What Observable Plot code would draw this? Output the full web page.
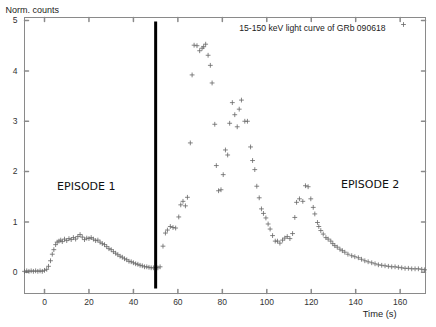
<!DOCTYPE html>
<html>
<head>
<meta charset="utf-8">
<script src="https://cdn.jsdelivr.net/npm/d3@7"></script>
<script src="https://cdn.jsdelivr.net/npm/@observablehq/plot@0.6"></script>
<style>
  html, body { margin: 0; padding: 0; background: #fff; }
  #chart svg { display: block; }
</style>
</head>
<body>
<div id="chart"></div>
<script>
// Time (s) of each bin
const times = [
  -9, -8, -7, -6, -5, -4, -3, -2, -1, 0, 1, 1.8, 2.7, 3.5, 4.2, 5, 5.7, 6.5, 7.3, 8,
  9, 10, 11, 12, 13, 14, 15, 16, 17, 18, 19, 20, 21, 22, 23, 24, 25, 26, 27, 28,
  29, 30, 31, 32, 33, 34, 35, 36, 37, 38, 39, 40, 41, 42, 43, 44, 45, 46, 47, 48,
  49, 50, 51, 52,
  53.3, 54.4, 55.3, 56.6, 57.8, 59, 60.4, 61.3, 62.3, 63.4, 64.3, 65.6, 66.4, 67.3, 68.6, 69.8,
  70.9, 71.6, 72.5, 73.6, 74.6, 75.4, 76.6, 77.3, 78.3, 79.4, 80.4, 81.4, 82.4, 83.3, 84.5, 85.6,
  86.7, 87.6, 88.6, 90.1, 91.3, 92.7, 93.6, 94.6, 95.5, 96.6, 97.6, 98.5, 99.6, 100.6, 101.5, 102.6,
  103.8, 104.8, 105.9, 107.1, 108.1, 109.2, 110.4, 111.6, 112.6, 113.4, 114.7, 116.2, 117.4, 118.6, 119.8, 120.9,
  121.6, 122.8, 123.4, 124.3, 125.4, 126.6, 127.6, 128.8, 129.7, 130.6, 131.7, 132.9, 134, 135.1, 136.5, 138.2,
  139.6, 141.2, 142.6, 144.1, 145.6, 147.2, 148.7, 150.2, 151.7, 153.2, 154.7, 156.2, 157.7, 159.2, 160.7, 162.2,
  163.7, 165.2, 166.7, 168.2, 169.7, 171
];
// Normalized counts
const counts = [
  0.02, 0.03, 0.02, 0.03, 0.02, 0.03, 0.02, 0.03, 0.02, 0.04, 0.06, 0.12, 0.23, 0.36, 0.45, 0.55, 0.60, 0.62, 0.64, 0.61,
  0.66, 0.63, 0.67, 0.65, 0.69, 0.66, 0.71, 0.75, 0.70, 0.65, 0.68, 0.67, 0.69, 0.66, 0.63, 0.64, 0.60, 0.57, 0.55, 0.51,
  0.47, 0.45, 0.41, 0.38, 0.35, 0.32, 0.30, 0.27, 0.25, 0.22, 0.21, 0.19, 0.17, 0.16, 0.14, 0.13, 0.11, 0.11, 0.10, 0.09,
  0.09, 0.10, 0.09, 0.11,
  0.52, 0.78, 0.84, 0.91, 0.89, 0.88, 1.10, 1.34, 1.41, 1.32, 1.49, 2.57, 3.92, 4.51, 4.50, 4.40,
  4.45, 4.48, 4.53, 4.31, 4.11, 3.76, 2.94, 2.12, 1.62, 1.64, 1.94, 2.43, 2.33, 2.96, 3.37, 3.13,
  2.89, 3.24, 3.42, 3.00, 3.00, 2.49, 2.22, 2.04, 1.71, 1.48, 1.26, 1.17, 1.08, 0.96, 0.86, 0.73,
  0.62, 0.62, 0.58, 0.64, 0.68, 0.71, 0.67, 0.77, 1.09, 1.39, 1.46, 1.41, 1.72, 1.70, 1.46, 1.29,
  1.16, 0.99, 0.91, 0.83, 0.76, 0.69, 0.66, 0.62, 0.57, 0.53, 0.50, 0.46, 0.43, 0.40, 0.36, 0.33,
  0.31, 0.29, 0.26, 0.23, 0.21, 0.19, 0.17, 0.15, 0.14, 0.13, 0.12, 0.11, 0.11, 0.10, 0.09, 0.08,
  0.08, 0.07, 0.07, 0.07, 0.06, 0.05
];
const xTicks = [0, 20, 40, 60, 80, 100, 120, 140, 160];
const yTicks = [0, 1, 2, 3, 4, 5];
const boundaryTime = [50];
const episodeLabels = ["EPISODE 1", "EPISODE 2"];
const episodeX = [18.8, 146.5];
const episodeY = [1.70, 1.74];
const legendText = "15-150 keV light curve of GRb 090618";
const yTitle = "Norm. counts";
const xTitle = "Time (s)";

const data = times.map((t, i) => ({t, c: counts[i]}));
const episodes = episodeLabels.map((s, i) => ({s, x: episodeX[i], y: episodeY[i]}));

const plusShape = {
  draw(ctx, size) {
    const r = Math.sqrt(size / Math.PI);
    ctx.moveTo(-r, 0); ctx.lineTo(r, 0);
    ctx.moveTo(0, -r); ctx.lineTo(0, r);
  }
};
const tickShape = {draw(ctx, l) { ctx.moveTo(0, 0); ctx.lineTo(0, -l); }};
const tickLen = 4;
const font = "Liberation Sans, Arial, sans-serif";

const chart = Plot.plot({
  width: 436,
  height: 327,
  marginLeft: 24,
  marginRight: 11,
  marginTop: 17,
  marginBottom: 34,
  style: {fontFamily: font, fontSize: "8px", color: "#333", background: "#fff"},
  x: {domain: [-9, 171.4]},
  y: {domain: [-0.42, 5.06]},
  marks: [
    Plot.frame({stroke: "#8a8a8a"}),
    // inward ticks on all four sides
    Plot.vector(xTicks, {x: d => d, frameAnchor: "bottom", length: tickLen, rotate: 0, anchor: "start", shape: tickShape, stroke: "#8a8a8a"}),
    Plot.vector(xTicks, {x: d => d, frameAnchor: "top", length: tickLen, rotate: 180, anchor: "start", shape: tickShape, stroke: "#8a8a8a"}),
    Plot.vector(yTicks, {y: d => d, frameAnchor: "left", length: tickLen, rotate: 90, anchor: "start", shape: tickShape, stroke: "#8a8a8a"}),
    Plot.vector(yTicks, {y: d => d, frameAnchor: "right", length: tickLen, rotate: -90, anchor: "start", shape: tickShape, stroke: "#8a8a8a"}),
    Plot.axisX({ticks: xTicks, tickSize: 0, tickPadding: 5, label: null, fontSize: 8.5, fill: "#333", tickFormat: d3.format("d")}),
    Plot.axisY({ticks: yTicks, tickSize: 0, tickPadding: 7, label: null, fontSize: 8.5, fill: "#333", tickFormat: d3.format("d")}),
    Plot.dot(data, {x: "t", y: "c", r: 2.4, symbol: plusShape, stroke: "#666", strokeWidth: 0.8, fill: "none"}),
    Plot.ruleX(boundaryTime, {y1: -0.33, y2: 4.97, stroke: "#000", strokeWidth: 3}),
    Plot.text(episodes, {x: "x", y: "y", text: "s", fontFamily: "DejaVu Sans", fontSize: 11, fill: "#111"}),
    Plot.text([legendText], {frameAnchor: "top-right", dx: -40, dy: 7, textAnchor: "end", fontSize: 8.6, fill: "#222"}),
    Plot.dot([0], {frameAnchor: "top-right", dx: -22, dy: 7, r: 2.4, symbol: plusShape, stroke: "#666", strokeWidth: 0.8, fill: "none"}),
    Plot.text([yTitle], {frameAnchor: "top-left", dx: -19, dy: -11, textAnchor: "start", fontSize: 9, fill: "#222"}),
    Plot.text([xTitle], {frameAnchor: "bottom-right", dx: -29, dy: 23, textAnchor: "end", fontSize: 9.3, fill: "#222"})
  ]
});
document.getElementById("chart").appendChild(chart);
</script>
</body>
</html>
